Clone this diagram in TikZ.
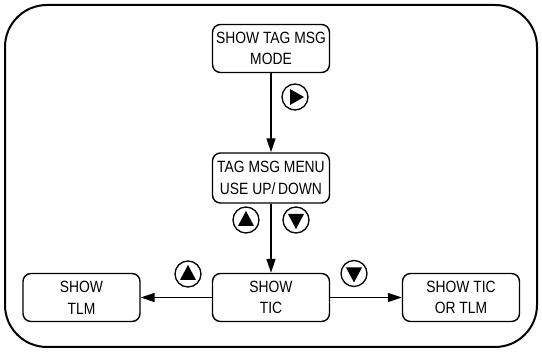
\documentclass[tikz,border=0pt]{standalone}
\usepackage{fontspec}
\setmainfont[FakeStretch=0.85]{Liberation Sans}
\usetikzlibrary{arrows.meta}
\begin{document}
\begin{tikzpicture}[x=1pt,y=-1pt,
  menubox/.style={draw,line width=1.4pt,rounded corners=8pt,minimum width=117pt,minimum height=48pt,align=center,inner sep=0pt,font=\fontsize{16.3}{21.7}\selectfont},
  flow/.style={line width=1.2pt,-{Triangle[length=14pt,width=9pt]}},
  keyring/.style={draw,circle,line width=1.3pt,minimum size=26pt,inner sep=0pt}]
\useasboundingbox (0,0) rectangle (542,352);
\draw[line width=2pt,rounded corners=42pt] (5,5) rectangle (537,347);
\node[menubox] (mode) at (271,48.5) {SHOW TAG MSG\\MODE};
\node[menubox,minimum height=50pt] (menu) at (271,178) {TAG MSG MENU\\USE UP/\,DOWN};
\node[menubox] (tic) at (271,297.5) {SHOW\\TIC};
\node[menubox] (tlm) at (81.5,297.5) {SHOW\\TLM};
\node[menubox] (ticortlm) at (461,297.5) {SHOW TIC\\OR TLM};
\draw[flow] (mode) -- (menu);
\draw[flow] (menu) -- (tic);
\draw[flow] (tic) -- (tlm);
\draw[flow] (tic) -- (ticortlm);
\node[keyring] (k1) at (295,97) {};
\node[keyring] (k2) at (246,220) {};
\node[keyring] (k3) at (296,220) {};
\node[keyring] (k4) at (188,274) {};
\node[keyring] (k5) at (354,273.5) {};
\fill[shift={(k1.center)}] (-5,-8) -- (-5,8) -- (9,0) -- cycle;
\fill[shift={(k2.center)}] (0,-9) -- (8,6) -- (-8,6) -- cycle;
\fill[shift={(k3.center)}] (0,9) -- (8,-6) -- (-8,-6) -- cycle;
\fill[shift={(k4.center)}] (0,-9) -- (8,6) -- (-8,6) -- cycle;
\fill[shift={(k5.center)}] (0,9) -- (8,-6) -- (-8,-6) -- cycle;
\end{tikzpicture}
\end{document}
